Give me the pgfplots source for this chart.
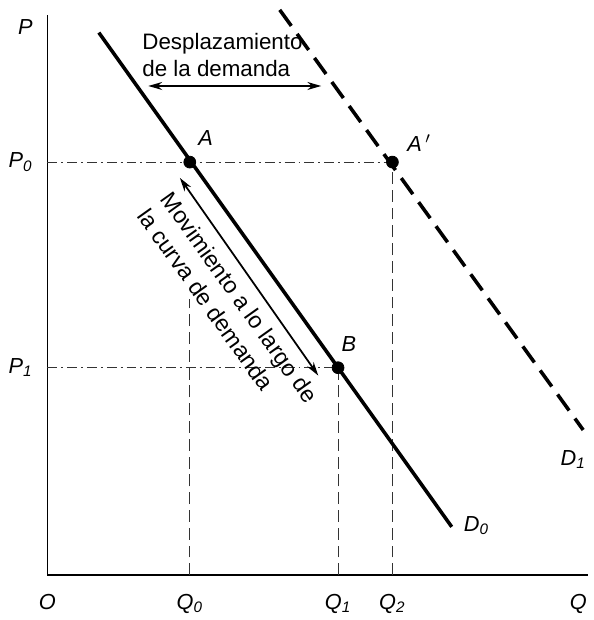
\documentclass[border=0pt]{standalone}
\usepackage{fontspec}
\setmainfont{Liberation Sans}
\usepackage{pgfplots}
\pgfplotsset{compat=1.18}
\usetikzlibrary{arrows.meta}
\begin{document}
\begin{tikzpicture}
\begin{axis}[
  x=0.5pt, y=0.5pt,
  xmin=0, xmax=547, ymin=0, ymax=567,
  axis lines=left,
  axis line style={-, line width=0.8pt},
  xtick={0,144,294,349,537},
  xticklabels={O, Q\textsubscript{0}, Q\textsubscript{1}, Q\textsubscript{2}, Q},
  ytick={210,418,555},
  yticklabels={P\textsubscript{1}, P\textsubscript{0}, P},
  major tick length=0pt,
  tick label style={font=\itshape\fontsize{11}{13}\selectfont},
  xticklabel style={yshift=-6pt},
  yticklabel style={xshift=-4pt},
  clip=false,
]
\path (axis cs:-48,-38) rectangle (axis cs:551,582);
% guide lines
\addplot[black!80, line width=0.5pt, dash pattern=on 5pt off 2pt on 1pt off 2pt] coordinates {(0,418) (349,418)};
\addplot[black!80, line width=0.5pt, dash pattern=on 5pt off 2pt on 1pt off 2pt] coordinates {(0,210) (294,210)};
\addplot[black!80, line width=0.5pt, dash pattern=on 6pt off 3pt] coordinates {(144,0) (144,280)};
\addplot[black!80, line width=0.5pt, dash pattern=on 6pt off 3pt] coordinates {(294,0) (294,210)};
\addplot[black!80, line width=0.5pt, dash pattern=on 6pt off 3pt] coordinates {(349,0) (349,418)};
% demand curves
\addplot[black, line width=1.8pt] coordinates {(52,549) (409,49)};
\addplot[black, line width=1.8pt, dash pattern=on 10pt off 5pt] coordinates {(235,572) (542,147)};
% points
\addplot[only marks, mark=*, mark size=3pt, black] coordinates {(144,418) (294,210) (349,418)};
% arrows
\addplot[black, line width=0.9pt, {Stealth[length=7pt,width=4pt]}-{Stealth[length=7pt,width=4pt]}] coordinates {(102,495) (277,495)};
\addplot[black, line width=0.9pt, {Stealth[length=7pt,width=4pt]}-{Stealth[length=7pt,width=4pt]}] coordinates {(134,402) (274,202)};
% labels
\node[font=\itshape\fontsize{11}{13}\selectfont] at (axis cs:160,442) {A};
\node[font=\itshape\fontsize{11}{13}\selectfont] at (axis cs:376,437) {A\,$'$};
\node[font=\itshape\fontsize{11}{13}\selectfont] at (axis cs:305,234) {B};
\node[font=\itshape\fontsize{11}{13}\selectfont] at (axis cs:434,50) {D\textsubscript{0}};
\node[font=\itshape\fontsize{11}{13}\selectfont] at (axis cs:532,117) {D\textsubscript{1}};
\node[font=\fontsize{11.3}{13.5}\selectfont, align=left, anchor=west] at (axis cs:89,526) {Desplazamiento\\de la demanda};
\node[font=\fontsize{11.7}{14.5}\selectfont, align=left, anchor=base west, rotate=-54.5] at (axis cs:86,369) {Movimiento a lo largo de\\la curva de demanda};
\end{axis}
\end{tikzpicture}
\end{document}
